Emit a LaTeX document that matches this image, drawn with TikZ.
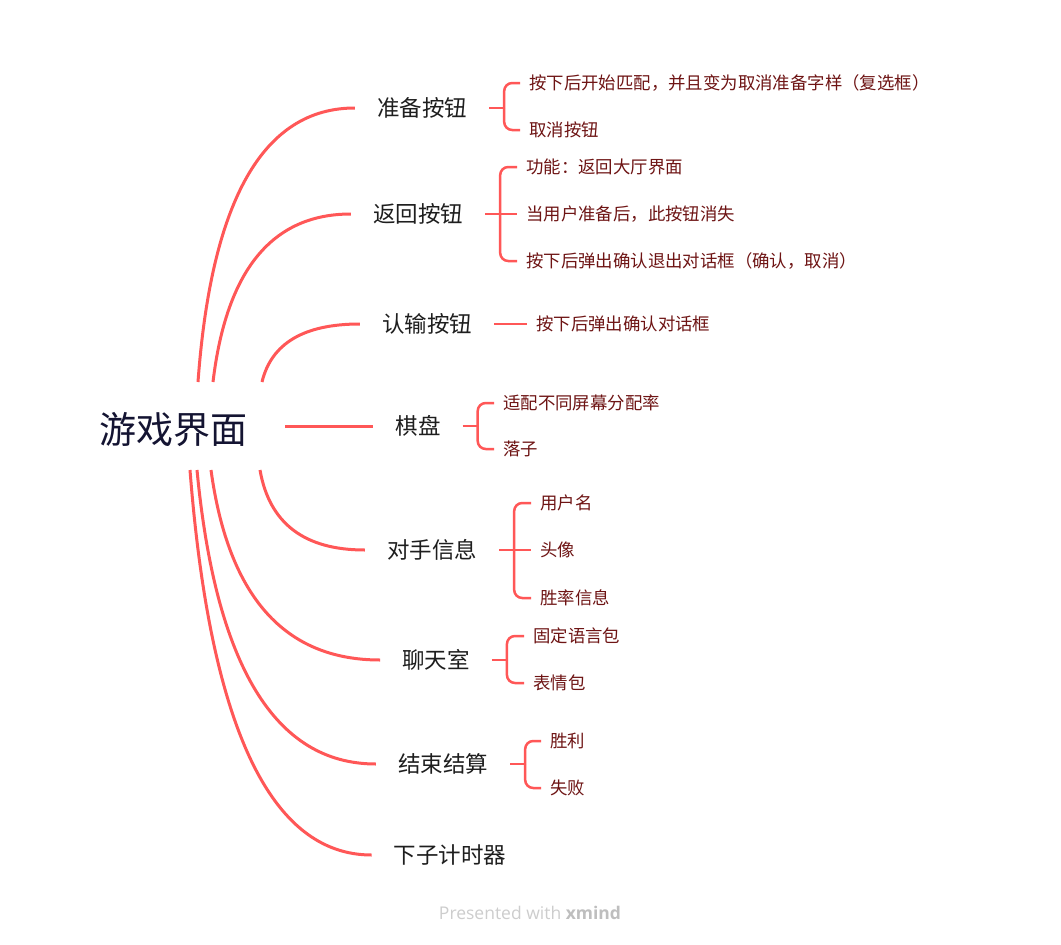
\documentclass[tikz,border=0pt]{standalone}
\usepackage{fontspec}
\setmainfont{Noto Sans CJK SC}
\newfontfamily\wmfont{Open Sans}
\usetikzlibrary{calc}
\definecolor{brc}{HTML}{FF5757}
\definecolor{rootc}{HTML}{141432}
\definecolor{labc}{HTML}{1E1E1E}
\definecolor{kidc}{HTML}{6E1414}
\definecolor{wmc}{HTML}{CDCDCD}
\definecolor{wmb}{HTML}{BEBEBE}
\begin{document}
\begin{tikzpicture}[x=1pt,y=-1pt,
  rootnode/.style={font=\fontsize{37}{42}\selectfont, text=rootc, inner sep=0pt},
  lab/.style={font=\fontsize{22.5}{26}\selectfont, text=labc, inner xsep=22pt, inner ysep=0pt},
  kid/.style={font=\fontsize{17.4}{20}\selectfont, text=kidc, anchor=west, inner xsep=9pt, inner ysep=0pt},
  mainline/.style={draw=brc, line width=3pt},
  subline/.style={draw=brc, line width=2.5pt, rounded corners=8pt}]
\fill[white] (0,0) rectangle (1061,945);
\useasboundingbox (0,0) rectangle (1061,945);

% root
\node[rootnode] (root) at (173,430) {游戏界面};

% branch labels
\node[lab] (b1) at (422,108) {准备按钮};
\node[lab] (b2) at (418,214) {返回按钮};
\node[lab] (b3) at (427,324) {认输按钮};
\node[lab] (b4) at (418,426) {棋盘};
\node[lab] (b5) at (432,550) {对手信息};
\node[lab] (b6) at (436,660) {聊天室};
\node[lab] (b7) at (443,764) {结束结算};
\node[lab] (b8) at (450,855) {下子计时器};

% start points on root
\coordinate (s1) at (198,382);
\coordinate (s2) at (213,382);
\coordinate (s3) at (262,382);
\coordinate (s4) at (285,426);
\coordinate (s5) at (260,470);
\coordinate (s6) at (211,470);
\coordinate (s7) at (197,470);
\coordinate (s8) at (190,470);

\foreach \i/\o in {1/20,2/20,3/14,5/14,6/26,7/28,8/30}{
  \draw[mainline] (s\i) .. controls ($(s\i)!0.667!($(s\i|-b\i.west)+(\o,0)$)$)
     and ($(b\i.west)!0.667!($(s\i|-b\i.west)+(\o,0)$)$) .. (b\i.west);
}
\draw[mainline] (s4) -- (b4.west);

% children
\node[kid] (c11) at (520,83) {按下后开始匹配，并且变为取消准备字样（复选框）};
\node[kid] (c12) at (520,130) {取消按钮};

\node[kid] (c21) at (517,167) {功能：返回大厅界面};
\node[kid] (c22) at (517,214) {当用户准备后，此按钮消失};
\node[kid] (c23) at (517,261) {按下后弹出确认退出对话框（确认，取消）};

\node[kid] (c31) at (527,324) {按下后弹出确认对话框};

\node[kid] (c41) at (494,403) {适配不同屏幕分配率};
\node[kid] (c42) at (494,449) {落子};

\node[kid] (c51) at (531,503) {用户名};
\node[kid] (c52) at (531,550) {头像};
\node[kid] (c53) at (531,598) {胜率信息};

\node[kid] (c61) at (524,636) {固定语言包};
\node[kid] (c62) at (524,683) {表情包};

\node[kid] (c71) at (541,741) {胜利};
\node[kid] (c72) at (541,788) {失败};

% brackets
\draw[subline] (b1.east) -- ++(15,0) coordinate (j1);
\draw[subline] (j1) |- (c11.west);
\draw[subline] (j1) |- (c12.west);

\draw[subline] (b2.east) -- ++(15,0) coordinate (j2);
\draw[subline] (j2) |- (c21.west);
\draw[subline] (j2) -- (c22.west);
\draw[subline] (j2) |- (c23.west);

\draw[subline] (b3.east) -- (c31.west);

\draw[subline] (b4.east) -- ++(15,0) coordinate (j4);
\draw[subline] (j4) |- (c41.west);
\draw[subline] (j4) |- (c42.west);

\draw[subline] (b5.east) -- ++(15,0) coordinate (j5);
\draw[subline] (j5) |- (c51.west);
\draw[subline] (j5) -- (c52.west);
\draw[subline] (j5) |- (c53.west);

\draw[subline] (b6.east) -- ++(15,0) coordinate (j6);
\draw[subline] (j6) |- (c61.west);
\draw[subline] (j6) |- (c62.west);

\draw[subline] (b7.east) -- ++(15,0) coordinate (j7);
\draw[subline] (j7) |- (c71.west);
\draw[subline] (j7) |- (c72.west);

% watermark
\node[font=\wmfont\fontsize{17.5}{20}\selectfont, text=wmc, inner sep=0pt] (wm) at (530,913)
  {Presented with \textcolor{wmb}{\bfseries xmind}};
\end{tikzpicture}
\end{document}
